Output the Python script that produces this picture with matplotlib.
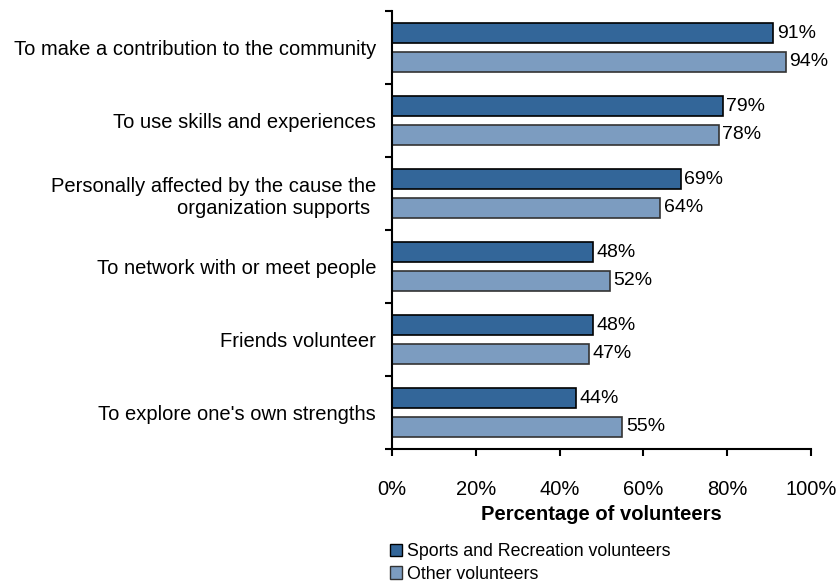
import numpy as np
import matplotlib.pyplot as plt
from matplotlib.patches import Patch

plt.rcParams['font.family'] = ['Liberation Sans', 'DejaVu Sans']

categories = ["To make a contribution to the community",
              "To use skills and experiences",
              "Personally affected by the cause the\norganization supports ",
              "To network with or meet people",
              "Friends volunteer",
              "To explore one's own strengths"]
sports = [91, 79, 69, 48, 48, 44]
other = [94, 78, 64, 52, 47, 55]

dark = '#336699'
light = '#7c9cc0'
fs = 14.5

fig = plt.figure(figsize=(8.39, 5.82), dpi=100)
ax = fig.add_axes([392/839, 1-449/582, 419/839, 438/582])

n = len(categories)
y = np.arange(n)[::-1] + 0.5
off = 0.192
h = 0.274
ax.barh(y + off, sports, height=h, color=dark, edgecolor='black', linewidth=1.2)
ax.barh(y - off, other, height=h, color=light, edgecolor='#333333', linewidth=1.2)

for yi, s, o in zip(y, sports, other):
    ax.text(s + 0.8, yi + off, f'{s}%', va='center', ha='left', fontsize=14)
    ax.text(o + 0.8, yi - off, f'{o}%', va='center', ha='left', fontsize=14)

ax.set_xlim(0, 100)
ax.set_ylim(0, n)
ax.set_xticks(np.arange(0, 101, 20))
ax.set_xticklabels([f'{v}%' for v in range(0, 101, 20)], fontsize=fs)
ax.set_yticks(np.arange(n + 1))
ax.set_yticklabels([])
ax.set_yticks(y, minor=True)
ax.set_yticklabels(categories, minor=True, fontsize=fs, ha='right')
ax.tick_params(axis='y', which='minor', length=0, pad=11.5)
ax.tick_params(axis='y', which='major', length=5, width=1.5, direction='out')
ax.tick_params(axis='x', length=5, width=1.5, direction='out', pad=17)
ax.spines['top'].set_visible(False)
ax.spines['right'].set_visible(False)
ax.spines['left'].set_linewidth(1.5)
ax.spines['bottom'].set_linewidth(1.5)
ax.set_xlabel('Percentage of volunteers', fontsize=fs, fontweight='bold', labelpad=4.5)

handles = [Patch(facecolor=dark, edgecolor='black', label='Sports and Recreation volunteers'),
           Patch(facecolor=light, edgecolor='#333333', label='Other volunteers')]
fig.legend(handles=handles, loc='upper left', bbox_to_anchor=(390/839, 1-543/582),
           frameon=False, fontsize=12.75, handlelength=0.7, handleheight=0.7,
           handletextpad=0.25, labelspacing=0.32, borderpad=0, borderaxespad=0)

fig.savefig('out.png', dpi=100)
